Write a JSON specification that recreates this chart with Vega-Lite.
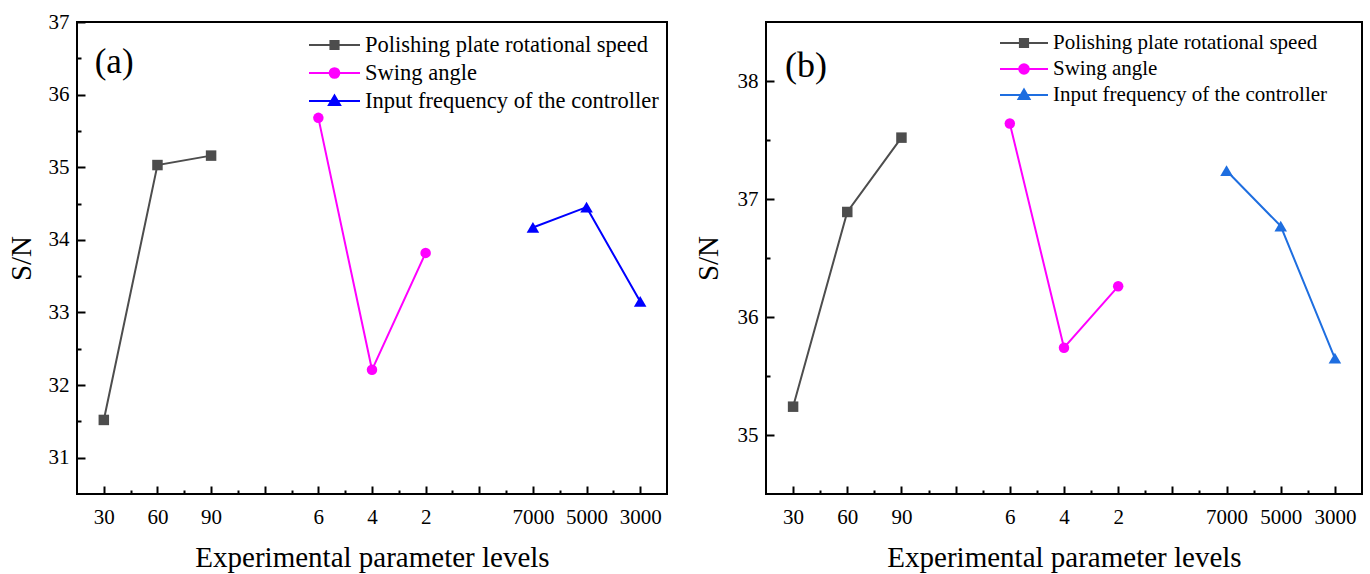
{
  "$schema": "https://vega.github.io/schema/vega-lite/v6.json",
  "background": "white",
  "padding": {"left": 6, "top": 10, "right": 4, "bottom": 4},
  "bounds": "flush",
  "spacing": 99,
  "resolve": {"scale": {"color": "independent"}, "legend": {"color": "independent"}},
  "config": {
    "font": "Liberation Serif",
    "view": {"stroke": "black", "strokeWidth": 2},
    "axis": {"labelFont": "Liberation Serif", "labelFontSize": 21, "labelColor": "black", "titleFont": "Liberation Serif", "titleFontSize": 29, "titleFontWeight": "normal", "titleColor": "black", "tickColor": "black", "tickWidth": 2, "domain": false, "grid": false}
  },
  "datasets": {
    "a": [
      {"series": "Polishing plate rotational speed", "pos": 1, "level": "30", "sn": 31.52},
      {"series": "Polishing plate rotational speed", "pos": 2, "level": "60", "sn": 35.03},
      {"series": "Polishing plate rotational speed", "pos": 3, "level": "90", "sn": 35.16},
      {"series": "Swing angle", "pos": 5, "level": "6", "sn": 35.68},
      {"series": "Swing angle", "pos": 6, "level": "4", "sn": 32.21},
      {"series": "Swing angle", "pos": 7, "level": "2", "sn": 33.82},
      {"series": "Input frequency of the controller", "pos": 9, "level": "7000", "sn": 34.17},
      {"series": "Input frequency of the controller", "pos": 10, "level": "5000", "sn": 34.45},
      {"series": "Input frequency of the controller", "pos": 11, "level": "3000", "sn": 33.15}
    ],
    "b": [
      {"series": "Polishing plate rotational speed", "pos": 1, "level": "30", "sn": 35.24},
      {"series": "Polishing plate rotational speed", "pos": 2, "level": "60", "sn": 36.89},
      {"series": "Polishing plate rotational speed", "pos": 3, "level": "90", "sn": 37.52},
      {"series": "Swing angle", "pos": 5, "level": "6", "sn": 37.64},
      {"series": "Swing angle", "pos": 6, "level": "4", "sn": 35.74},
      {"series": "Swing angle", "pos": 7, "level": "2", "sn": 36.26},
      {"series": "Input frequency of the controller", "pos": 9, "level": "7000", "sn": 37.24},
      {"series": "Input frequency of the controller", "pos": 10, "level": "5000", "sn": 36.77},
      {"series": "Input frequency of the controller", "pos": 11, "level": "3000", "sn": 35.65}
    ]
  },
  "hconcat": [
    {
      "width": 590,
      "height": 472,
      "data": {"name": "a"},
      "resolve": {"axis": {"x": "independent", "y": "independent"}},
      "layer": [
        {
          "mark": {"type": "line", "strokeWidth": 2},
          "encoding": {
            "x": {"field": "pos", "type": "quantitative", "scale": {"domain": [0.5, 11.5], "nice": false, "zero": false},
              "axis": {"orient": "bottom", "values": [1, 2, 3, 4, 5, 6, 7, 8, 9, 10, 11], "labelExpr": "['','30','60','90','','6','4','2','','7000','5000','3000'][datum.value]", "tickSize": 8, "offset": -8, "labelPadding": 12, "title": "Experimental parameter levels", "titlePadding": 16, "labelFlush": false, "labelOverlap": false}},
            "y": {"field": "sn", "type": "quantitative", "scale": {"domain": [30.5, 37], "nice": false, "zero": false},
              "axis": {"orient": "left", "values": [31, 32, 33, 34, 35, 36, 37], "format": "d", "tickSize": 8, "offset": -8, "labelPadding": 8, "title": "S/N", "titlePadding": 12, "labelFlush": false, "labelOverlap": false}},
            "color": {"field": "series", "type": "nominal",
              "scale": {"domain": ["Polishing plate rotational speed", "Swing angle", "Input frequency of the controller"], "range": ["#4d4d4d", "#ff00ff", "#0000ff"]},
              "legend": {"title": null, "orient": "none", "legendX": 231, "legendY": 12, "padding": 0, "labelFont": "Liberation Serif", "labelFontSize": 22.5, "labelColor": "black", "labelOffset": 4, "rowPadding": 5, "clipHeight": 22, "labelLimit": 0, "symbolSize": 2601, "symbolStrokeWidth": 2, "symbolOpacity": 1,
                "symbolType": {"expr": "datum.value === 'Swing angle' ? 'M-1,0H1M0.19,0A0.19,0.19,0,1,1,-0.19,0A0.19,0.19,0,1,1,0.19,0Z' : datum.value === 'Input frequency of the controller' ? 'M-1,0H1M0,-0.22L0.22,0.16H-0.22Z' : 'M-1,0H1M-0.16,-0.16H0.16V0.16H-0.16Z'"},
                "symbolFillColor": {"expr": "datum.value === 'Swing angle' ? '#ff00ff' : datum.value === 'Input frequency of the controller' ? '#0000ff' : '#4d4d4d'"}}}
          }
        },
        {
          "transform": [{"filter": "datum.series === 'Polishing plate rotational speed'"}],
          "mark": {"type": "point", "shape": "square", "filled": true, "opacity": 1, "size": 110, "color": "#4d4d4d"},
          "encoding": {
            "x": {"field": "pos", "type": "quantitative", "axis": null},
            "y": {"field": "sn", "type": "quantitative", "axis": null}
          }
        },
        {
          "transform": [{"filter": "datum.series === 'Swing angle'"}],
          "mark": {"type": "point", "shape": "circle", "filled": true, "opacity": 1, "size": 110, "color": "#ff00ff"},
          "encoding": {
            "x": {"field": "pos", "type": "quantitative", "axis": null},
            "y": {"field": "sn", "type": "quantitative", "axis": null}
          }
        },
        {
          "transform": [{"filter": "datum.series === 'Input frequency of the controller'"}],
          "mark": {"type": "point", "shape": "M0,-1.05L1.2,1H-1.2Z", "filled": true, "opacity": 1, "size": 110, "color": "#0000ff"},
          "encoding": {
            "x": {"field": "pos", "type": "quantitative", "axis": null},
            "y": {"field": "sn", "type": "quantitative", "axis": null}
          }
        },
        {
          "data": {"values": [{"tag": "(a)"}]},
          "mark": {"type": "text", "align": "left", "baseline": "middle", "fontSize": 35, "font": "Liberation Serif", "color": "black"},
          "encoding": {
            "x": {"datum": 0.83, "type": "quantitative", "axis": null},
            "y": {"datum": 36.45, "type": "quantitative", "axis": null},
            "text": {"field": "tag"}
          }
        },
        {
          "mark": {"type": "point", "opacity": 0},
          "encoding": {
            "x": {"field": "pos", "type": "quantitative", "axis": {"orient": "bottom", "values": [1.5, 2.5, 3.5, 4.5, 5.5, 6.5, 7.5, 8.5, 9.5, 10.5], "tickSize": 4, "offset": -4, "labels": false, "title": null}},
            "y": {"field": "sn", "type": "quantitative", "axis": {"orient": "left", "values": [31.5, 32.5, 33.5, 34.5, 35.5, 36.5], "tickSize": 4, "offset": -4, "labels": false, "title": null}}
          }
        }
      ]
    },
    {
      "width": 596,
      "height": 472,
      "data": {"name": "b"},
      "resolve": {"axis": {"x": "independent", "y": "independent"}},
      "layer": [
        {
          "mark": {"type": "line", "strokeWidth": 2},
          "encoding": {
            "x": {"field": "pos", "type": "quantitative", "scale": {"domain": [0.5, 11.5], "nice": false, "zero": false},
              "axis": {"orient": "bottom", "values": [1, 2, 3, 4, 5, 6, 7, 8, 9, 10, 11], "labelExpr": "['','30','60','90','','6','4','2','','7000','5000','3000'][datum.value]", "tickSize": 8, "offset": -8, "labelPadding": 12, "title": "Experimental parameter levels", "titlePadding": 16, "labelFlush": false, "labelOverlap": false}},
            "y": {"field": "sn", "type": "quantitative", "scale": {"domain": [34.5, 38.5], "nice": false, "zero": false},
              "axis": {"orient": "left", "values": [35, 36, 37, 38], "format": "d", "tickSize": 8, "offset": -8, "labelPadding": 8, "title": "S/N", "titlePadding": 14, "labelFlush": false, "labelOverlap": false}},
            "color": {"field": "series", "type": "nominal",
              "scale": {"domain": ["Polishing plate rotational speed", "Swing angle", "Input frequency of the controller"], "range": ["#4d4d4d", "#ff00ff", "#1e6ee0"]},
              "legend": {"title": null, "orient": "none", "legendX": 233, "legendY": 11, "padding": 0, "labelFont": "Liberation Serif", "labelFontSize": 21, "labelColor": "black", "labelOffset": 4, "rowPadding": 5, "clipHeight": 20, "labelLimit": 0, "symbolSize": 2304, "symbolStrokeWidth": 2, "symbolOpacity": 1,
                "symbolType": {"expr": "datum.value === 'Swing angle' ? 'M-1,0H1M0.2,0A0.2,0.2,0,1,1,-0.2,0A0.2,0.2,0,1,1,0.2,0Z' : datum.value === 'Input frequency of the controller' ? 'M-1,0H1M0,-0.23L0.23,0.17H-0.23Z' : 'M-1,0H1M-0.17,-0.17H0.17V0.17H-0.17Z'"},
                "symbolFillColor": {"expr": "datum.value === 'Swing angle' ? '#ff00ff' : datum.value === 'Input frequency of the controller' ? '#1e6ee0' : '#4d4d4d'"}}}
          }
        },
        {
          "transform": [{"filter": "datum.series === 'Polishing plate rotational speed'"}],
          "mark": {"type": "point", "shape": "square", "filled": true, "opacity": 1, "size": 110, "color": "#4d4d4d"},
          "encoding": {
            "x": {"field": "pos", "type": "quantitative", "axis": null},
            "y": {"field": "sn", "type": "quantitative", "axis": null}
          }
        },
        {
          "transform": [{"filter": "datum.series === 'Swing angle'"}],
          "mark": {"type": "point", "shape": "circle", "filled": true, "opacity": 1, "size": 110, "color": "#ff00ff"},
          "encoding": {
            "x": {"field": "pos", "type": "quantitative", "axis": null},
            "y": {"field": "sn", "type": "quantitative", "axis": null}
          }
        },
        {
          "transform": [{"filter": "datum.series === 'Input frequency of the controller'"}],
          "mark": {"type": "point", "shape": "M0,-1.05L1.2,1H-1.2Z", "filled": true, "opacity": 1, "size": 110, "color": "#1e6ee0"},
          "encoding": {
            "x": {"field": "pos", "type": "quantitative", "axis": null},
            "y": {"field": "sn", "type": "quantitative", "axis": null}
          }
        },
        {
          "data": {"values": [{"tag": "(b)"}]},
          "mark": {"type": "text", "align": "left", "baseline": "middle", "fontSize": 36, "font": "Liberation Serif", "color": "black"},
          "encoding": {
            "x": {"datum": 0.85, "type": "quantitative", "axis": null},
            "y": {"datum": 38.13, "type": "quantitative", "axis": null},
            "text": {"field": "tag"}
          }
        },
        {
          "mark": {"type": "point", "opacity": 0},
          "encoding": {
            "x": {"field": "pos", "type": "quantitative", "axis": {"orient": "bottom", "values": [1.5, 2.5, 3.5, 4.5, 5.5, 6.5, 7.5, 8.5, 9.5, 10.5], "tickSize": 4, "offset": -4, "labels": false, "title": null}},
            "y": {"field": "sn", "type": "quantitative", "axis": {"orient": "left", "values": [35.5, 36.5, 37.5], "tickSize": 4, "offset": -4, "labels": false, "title": null}}
          }
        }
      ]
    }
  ]
}
